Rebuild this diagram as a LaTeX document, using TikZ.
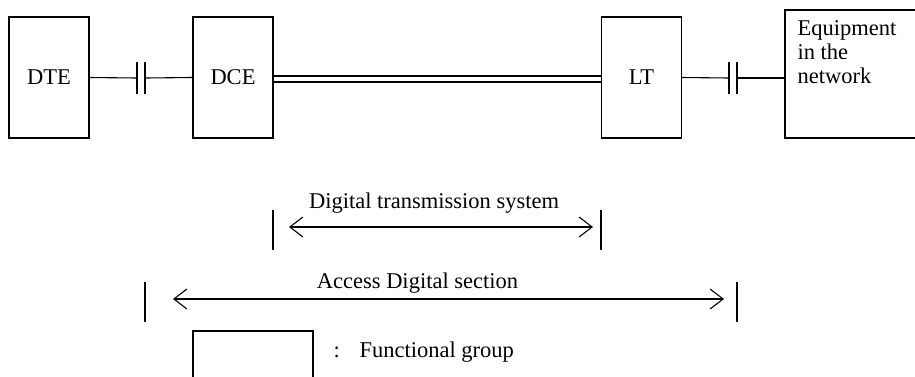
\documentclass[tikz,border=0pt]{standalone}
\usepackage{fontspec}
\setmainfont{Liberation Serif}
\usetikzlibrary{arrows.meta}
\tikzset{
  fgroup/.style={draw, minimum width=80pt, minimum height=121pt, inner sep=0pt},
  spanarrow/.style={{Straight Barb[length=13pt,width=20pt]}-{Straight Barb[length=13pt,width=20pt]}},
  label/.style={anchor=base, inner sep=0pt},
}
\begin{document}
\begin{tikzpicture}[x=1pt, y=-1pt, line width=1.1pt, font=\fontsize{22.5}{24}\selectfont]
      \useasboundingbox (0,0) rectangle (915,376);
      \draw
        (49,77.5) node[fgroup] (dte){DTE}
        (233,77.5) node[fgroup] (dce){DCE}
        (641.5,77.5) node[fgroup] (lt){LT}
        (855,74) node[fgroup, minimum width=140pt, minimum height=128pt] (eq){}
        (253,361) node[fgroup, minimum width=120pt, minimum height=60pt] (legend){};
      \node[anchor=north west, align=left, inner sep=0pt] (eqtext) at (797,20) {Equipment\\in the\\network};
      % interfaces
      \coordinate (i1l) at (137,78);
      \coordinate (i1r) at (145,78);
      \coordinate (i2l) at (729,78);
      \coordinate (i2r) at (737,78);
      \begin{scope}[-]
        \draw (dte.east) to (i1l);
        \draw (i1r) to (dce.west);
        \draw (lt.east) to (i2l);
        \draw (i2r) to (i2r -| eq.west);
        \draw ([yshift=16pt]i1l) to ([yshift=-16pt]i1l);
        \draw ([yshift=16pt]i1r) to ([yshift=-16pt]i1r);
        \draw ([yshift=16pt]i2l) to ([yshift=-16pt]i2l);
        \draw ([yshift=16pt]i2r) to ([yshift=-16pt]i2r);
        \draw ([yshift=1.5pt]dce.east) to ([yshift=1.5pt]lt.west);
        \draw ([yshift=-4.5pt]dce.east) to ([yshift=-4.5pt]lt.west);
      \end{scope}
      % digital transmission system
      \coordinate (dtsl) at (273,230);
      \coordinate (dtsr) at (601,230);
      \coordinate (dtsa) at (289,227);
      \coordinate (dtsb) at (593,227);
      \draw ([yshift=20pt]dtsl) -- ([yshift=-20pt]dtsl);
      \draw ([yshift=20pt]dtsr) -- ([yshift=-20pt]dtsr);
      \draw[spanarrow] (dtsa) -- (dtsb);
      \node[label] (dts) at (434,208) {Digital transmission system};
      % access digital section
      \coordinate (adsl) at (145,302);
      \coordinate (adsr) at (737,302);
      \coordinate (adsa) at (173,299);
      \coordinate (adsb) at (724,299);
      \draw ([yshift=20pt]adsl) -- ([yshift=-20pt]adsl);
      \draw ([yshift=20pt]adsr) -- ([yshift=-20pt]adsr);
      \draw[spanarrow] (adsa) -- (adsb);
      \node[label] (ads) at (417.5,288) {Access Digital section};
      % legend
      \node[anchor=base west, inner sep=0pt] (colon) at (333,357) {:};
      \node[anchor=base west, inner sep=0pt] (fgtext) at (359,357) {Functional group};
    \end{tikzpicture}
\end{document}
